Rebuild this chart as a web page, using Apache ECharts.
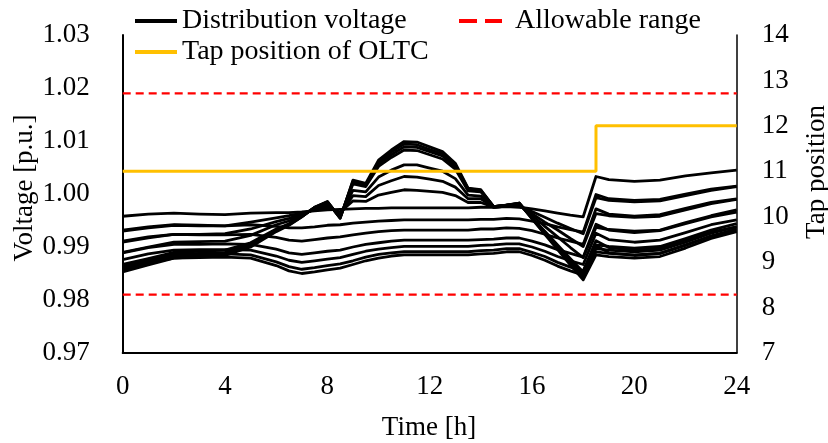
<!DOCTYPE html>
<html><head><meta charset="utf-8">
<script src="https://cdn.jsdelivr.net/npm/echarts@6/dist/echarts.min.js"></script>
<style>html,body{margin:0;padding:0;background:#fff}#c{width:828px;height:443px}</style>
</head><body><div id="c"></div>
<script>
// ---- data ----
const hours = [0,1,2,3,4,5,6,6.5,7,7.5,8,8.5,9,9.5,10,10.5,11,11.5,12,12.5,13,13.5,14,14.5,15,15.5,16,16.5,17,17.5,18,18.5,19,20,21,22,23,24];
const vSub = [0.9958,0.9962,0.9964,0.9962,0.9961,0.9964,0.9965,0.9965,0.9966,0.9968,0.9970,0.9971,0.9972,0.9973,0.9973,0.9974,0.9974,0.9974,0.9974,0.9974,0.9974,0.9974,0.9975,0.9975,0.9976,0.9975,0.9972,0.9968,0.9964,0.9960,0.9957,1.0033,1.0027,1.0024,1.0026,1.0034,1.0040,1.0045];
const vA1 = [0.9930,0.9936,0.9941,0.9940,0.9940,0.9947,0.9955,0.9959,0.9964,0.9970,0.9974,0.9966,0.9987,0.9986,0.9998,1.0003,1.0008,1.0007,1.0005,1.0003,0.9997,0.9984,0.9984,0.9975,0.9977,0.9977,0.9967,0.9956,0.9945,0.9935,0.9925,0.9993,0.9988,0.9985,0.9987,0.9997,1.0007,1.0014];
const vA2 = [0.9909,0.9917,0.9924,0.9924,0.9925,0.9934,0.9948,0.9954,0.9962,0.9971,0.9978,0.9963,0.9997,0.9995,1.0016,1.0025,1.0033,1.0032,1.0028,1.0024,1.0013,0.9991,0.9991,0.9975,0.9977,0.9979,0.9963,0.9947,0.9932,0.9916,0.9901,0.9963,0.9959,0.9956,0.9958,0.9970,0.9982,0.9990];
const vA3 = [0.9890,0.9900,0.9909,0.9910,0.9911,0.9922,0.9942,0.9949,0.9960,0.9973,0.9980,0.9960,1.0007,1.0004,1.0032,1.0045,1.0055,1.0055,1.0049,1.0043,1.0029,0.9998,0.9996,0.9976,0.9978,0.9980,0.9960,0.9939,0.9919,0.9899,0.9880,0.9937,0.9933,0.9930,0.9932,0.9946,0.9959,0.9970];
const vA4 = [0.9867,0.9878,0.9890,0.9892,0.9894,0.9908,0.9934,0.9944,0.9958,0.9974,0.9984,0.9956,1.0019,1.0014,1.0052,1.0069,1.0083,1.0082,1.0074,1.0066,1.0047,1.0006,1.0004,0.9976,0.9979,0.9982,0.9955,0.9930,0.9904,0.9878,0.9853,0.9904,0.9901,0.9898,0.9901,0.9916,0.9932,0.9944];
const vA5 = [0.9861,0.9874,0.9886,0.9888,0.9890,0.9905,0.9932,0.9943,0.9958,0.9974,0.9985,0.9955,1.0022,1.0016,1.0057,1.0074,1.0089,1.0088,1.0080,1.0072,1.0051,1.0008,1.0005,0.9976,0.9979,0.9982,0.9955,0.9928,0.9901,0.9874,0.9848,0.9897,0.9894,0.9891,0.9894,0.9909,0.9926,0.9938];
const vA6 = [0.9857,0.9870,0.9882,0.9885,0.9887,0.9903,0.9930,0.9942,0.9957,0.9975,0.9985,0.9955,1.0024,1.0018,1.0060,1.0079,1.0094,1.0093,1.0084,1.0076,1.0055,1.0010,1.0007,0.9976,0.9979,0.9983,0.9954,0.9926,0.9898,0.9870,0.9843,0.9891,0.9888,0.9885,0.9888,0.9903,0.9921,0.9934];
const vA7 = [0.9853,0.9866,0.9879,0.9882,0.9884,0.9900,0.9929,0.9941,0.9957,0.9975,0.9986,0.9954,1.0026,1.0020,1.0064,1.0083,1.0099,1.0098,1.0089,1.0080,1.0058,1.0011,1.0008,0.9976,0.9979,0.9983,0.9953,0.9924,0.9895,0.9866,0.9838,0.9885,0.9882,0.9879,0.9882,0.9898,0.9916,0.9929];
const vB1 = [0.9932,0.9938,0.9942,0.9941,0.9940,0.9942,0.9939,0.9936,0.9936,0.9938,0.9941,0.9942,0.9945,0.9947,0.9949,0.9950,0.9951,0.9951,0.9951,0.9951,0.9951,0.9951,0.9952,0.9952,0.9954,0.9953,0.9949,0.9944,0.9938,0.9933,0.9928,0.9999,0.9991,0.9988,0.9990,1.0000,1.0009,1.0015];
const vB2 = [0.9911,0.9919,0.9924,0.9923,0.9923,0.9924,0.9918,0.9913,0.9911,0.9914,0.9917,0.9919,0.9923,0.9926,0.9929,0.9931,0.9932,0.9932,0.9932,0.9932,0.9932,0.9932,0.9934,0.9934,0.9936,0.9935,0.9931,0.9924,0.9917,0.9911,0.9905,0.9972,0.9962,0.9958,0.9961,0.9973,0.9984,0.9991];
const vB3 = [0.9889,0.9899,0.9905,0.9905,0.9906,0.9905,0.9896,0.9889,0.9886,0.9889,0.9892,0.9894,0.9900,0.9905,0.9908,0.9911,0.9913,0.9913,0.9913,0.9913,0.9913,0.9913,0.9914,0.9915,0.9917,0.9917,0.9911,0.9904,0.9895,0.9888,0.9881,0.9943,0.9932,0.9927,0.9931,0.9944,0.9957,0.9966];
const vB4 = [0.9876,0.9887,0.9894,0.9895,0.9895,0.9894,0.9883,0.9875,0.9871,0.9874,0.9877,0.9880,0.9886,0.9892,0.9896,0.9899,0.9901,0.9901,0.9901,0.9901,0.9901,0.9901,0.9903,0.9904,0.9906,0.9906,0.9900,0.9892,0.9882,0.9874,0.9867,0.9926,0.9914,0.9909,0.9913,0.9927,0.9942,0.9951];
const vB5 = [0.9865,0.9876,0.9885,0.9886,0.9887,0.9885,0.9872,0.9863,0.9858,0.9861,0.9865,0.9868,0.9874,0.9881,0.9886,0.9889,0.9891,0.9891,0.9891,0.9891,0.9891,0.9891,0.9893,0.9894,0.9897,0.9897,0.9890,0.9882,0.9871,0.9862,0.9855,0.9912,0.9899,0.9894,0.9898,0.9913,0.9928,0.9938];
const vB6 = [0.9858,0.9870,0.9879,0.9880,0.9881,0.9879,0.9865,0.9855,0.9850,0.9853,0.9857,0.9860,0.9867,0.9874,0.9879,0.9883,0.9885,0.9885,0.9885,0.9885,0.9885,0.9885,0.9887,0.9888,0.9891,0.9891,0.9884,0.9875,0.9864,0.9855,0.9847,0.9903,0.9889,0.9884,0.9888,0.9904,0.9920,0.9930];
const tapHours = [0, 18.5, 24];
const tapPos = [11, 12, 12];
const limitHours = [0, 24];
const upperLimit = [1.019, 1.019];
const lowerLimit = [0.981, 0.981];
const timeTicks = [0, 4, 8, 12, 16, 20, 24];

// ---- chart ----
const FONT = '"Liberation Serif","Times New Roman",serif';
const voltageLines = [vSub, vA1, vA2, vA3, vA4, vA5, vA6, vA7, vB1, vB2, vB3, vB4, vB5, vB6];
const series = [];
voltageLines.forEach(arr => {
  series.push({
    name: 'Distribution voltage', type: 'line', yAxisIndex: 0,
    data: hours.map((h, i) => [h, arr[i]]),
    symbol: 'none', silent: true, z: 2,
    lineStyle: { color: '#000', width: 2.8, join: 'round' },
    itemStyle: { color: '#000' }
  });
});
[upperLimit, lowerLimit].forEach(arr => {
  series.push({
    name: 'Allowable range', type: 'line', yAxisIndex: 0,
    data: limitHours.map((h, i) => [h, arr[i]]),
    symbol: 'none', silent: true, z: 3,
    lineStyle: { color: '#FF0000', width: 2.2, type: [8, 5] },
    itemStyle: { color: '#FF0000' }
  });
});
series.push({
  name: 'Tap position of OLTC', type: 'line', yAxisIndex: 1, step: 'end',
  data: tapHours.map((h, i) => [h, tapPos[i]]),
  symbol: 'none', silent: true, z: 4,
  lineStyle: { color: '#FFC000', width: 3 },
  itemStyle: { color: '#FFC000' }
});

const chart = echarts.init(document.getElementById('c'), null, { renderer: 'canvas' });
chart.setOption({
  animation: false,
  backgroundColor: '#fff',
  grid: { left: 122.7, right: 91.3, top: 35, bottom: 90, containLabel: false },
  legend: [
    { left: 130, top: 2, orient: 'vertical', itemWidth: 42, itemHeight: 4, itemGap: 3, selectedMode: false,
      textStyle: { fontFamily: FONT, fontSize: 28, color: '#000' },
      data: [ { name: 'Distribution voltage', icon: 'rect' },
              { name: 'Tap position of OLTC', icon: 'rect' } ] },
    { left: 454, top: 2, itemWidth: 43, itemHeight: 4, selectedMode: false,
      textStyle: { fontFamily: FONT, fontSize: 28, color: '#000', padding: [0, 0, 0, 8] },
      data: [ { name: 'Allowable range', icon: 'path://M0,0H18V4H0Z M26,0H43V4H26Z' } ] }
  ],
  xAxis: {
    type: 'value', min: timeTicks[0], max: timeTicks[timeTicks.length - 1], interval: 4,
    axisLine: { show: true, lineStyle: { color: '#000', width: 2 } },
    axisTick: { show: false }, splitLine: { show: false },
    axisLabel: { color: '#000', fontFamily: FONT, fontSize: 27, margin: 20 }
  },
  yAxis: [
    { type: 'value', min: 0.97, max: 1.03, interval: 0.01, position: 'left',
      axisLine: { show: true, lineStyle: { color: '#000', width: 2 } },
      axisTick: { show: false }, splitLine: { show: false },
      axisLabel: { color: '#000', fontFamily: FONT, fontSize: 27, margin: 33, formatter: v => v.toFixed(2) } },
    { type: 'value', min: 7, max: 14, interval: 1, position: 'right',
      axisLine: { show: true, lineStyle: { color: '#000', width: 1.5 } },
      axisTick: { show: false }, splitLine: { show: false },
      axisLabel: { color: '#000', fontFamily: FONT, fontSize: 27, margin: 25 } }
  ],
  graphic: [
    { type: 'text', x: 429, y: 428, style: { text: 'Time [h]', fontFamily: FONT, fontSize: 27, fill: '#000', align: 'center', verticalAlign: 'middle' } },
    { type: 'text', x: 25, y: 188, rotation: Math.PI / 2, style: { text: 'Voltage [p.u.]', fontFamily: FONT, fontSize: 27, fill: '#000', align: 'center', verticalAlign: 'middle' } },
    { type: 'text', x: 817, y: 172, rotation: Math.PI / 2, style: { text: 'Tap position', fontFamily: FONT, fontSize: 27, fill: '#000', align: 'center', verticalAlign: 'middle' } }
  ],
  series: series
});
</script></body></html>
